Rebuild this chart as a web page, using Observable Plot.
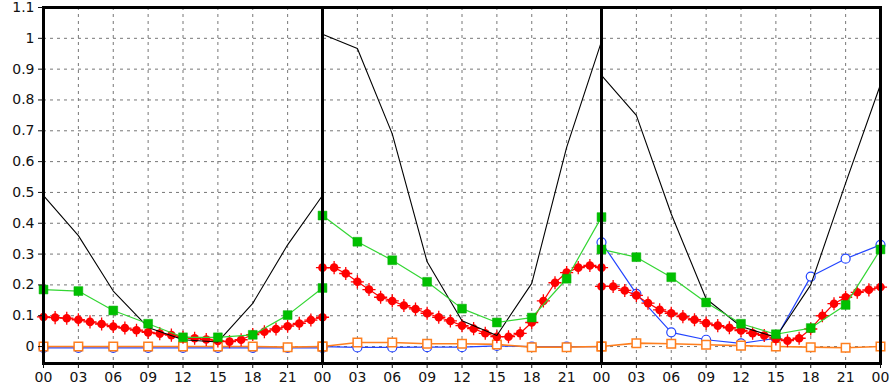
<!DOCTYPE html>
<html>
<head>
<meta charset="utf-8">
<script src="https://cdn.jsdelivr.net/npm/d3@7"></script>
<script src="https://cdn.jsdelivr.net/npm/@observablehq/plot@0.6"></script>
<style>
  html, body { margin: 0; padding: 0; background: #fff; }
  #chart svg { display: block; }
</style>
</head>
<body>
<div id="chart"></div>
<script>
// Three consecutive days, each panel 00..24 h
const panels = [0, 1, 2];
const hours3 = [0, 3, 6, 9, 12, 15, 18, 21, 24];
const hours1 = [0, 1, 2, 3, 4, 5, 6, 7, 8, 9, 10, 11, 12, 13, 14, 15, 16, 17, 18, 19, 20, 21, 22, 23, 24];

// black line (3-hourly)
const black = [
  [0.49, 0.36, 0.18, 0.062, 0.022, 0.015, 0.14, 0.33, 0.49],
  [1.013, 0.967, 0.69, 0.275, 0.084, 0.036, 0.205, 0.646, 0.99],
  [0.88, 0.75, 0.43, 0.155, 0.065, 0.03, 0.2, 0.53, 0.85]
];
// green squares (3-hourly)
const green = [
  [0.185, 0.18, 0.117, 0.074, 0.03, 0.03, 0.038, 0.102, 0.19],
  [0.425, 0.34, 0.28, 0.21, 0.123, 0.078, 0.094, 0.22, 0.42],
  [0.315, 0.29, 0.225, 0.143, 0.074, 0.04, 0.06, 0.135, 0.315]
];
// blue open circles (3-hourly)
const blue = [
  [-0.004, -0.004, -0.004, -0.004, -0.004, -0.004, -0.004, -0.004, -0.004],
  [0, -0.003, -0.003, -0.002, -0.002, 0.002, 0, 0, 0],
  [0.338, 0.171, 0.046, 0.022, 0.01, 0.027, 0.227, 0.285, 0.33]
];
// orange open squares (3-hourly)
const orange = [
  [0, 0, 0, 0, 0, 0, 0, -0.002, 0],
  [0, 0.013, 0.013, 0.009, 0.009, 0.007, -0.002, -0.002, 0],
  [0, 0.011, 0.009, 0.006, 0.003, 0, -0.002, -0.004, 0]
];
// red markers (hourly)
const red = [
  [0.096, 0.094, 0.092, 0.087, 0.08, 0.073, 0.065, 0.06, 0.053, 0.046, 0.042, 0.037, 0.03, 0.027, 0.023, 0.018, 0.016, 0.022, 0.039, 0.048, 0.057, 0.066, 0.075, 0.086, 0.095],
  [0.256, 0.256, 0.237, 0.21, 0.185, 0.16, 0.148, 0.133, 0.122, 0.108, 0.095, 0.083, 0.068, 0.058, 0.043, 0.032, 0.032, 0.043, 0.078, 0.148, 0.207, 0.24, 0.256, 0.263, 0.256],
  [0.195, 0.195, 0.182, 0.166, 0.141, 0.119, 0.108, 0.097, 0.087, 0.076, 0.068, 0.061, 0.052, 0.043, 0.036, 0.025, 0.019, 0.027, 0.057, 0.1, 0.139, 0.16, 0.176, 0.184, 0.193]
];

const yTicks = [0, 0.1, 0.2, 0.3, 0.4, 0.5, 0.6, 0.7, 0.8, 0.9, 1, 1.1];
const yTickLabels = ["0", "0.1", "0.2", "0.3", "0.4", "0.5", "0.6", "0.7", "0.8", "0.9", "1", "1.1"];
const xTicks = [0, 3, 6, 9, 12, 15, 18, 21, 24, 27, 30, 33, 36, 39, 42, 45, 48, 51, 54, 57, 60, 63, 66, 69, 72];
const xTickLabels = ["00","03","06","09","12","15","18","21","00","03","06","09","12","15","18","21","00","03","06","09","12","15","18","21","00"];
const panelEdges = [24, 48];

function rows(series, hours) {
  const out = [];
  panels.forEach(p => hours.forEach((h, i) => out.push({x: p * 24 + h, y: series[p][i], panel: p})));
  return out;
}
const blackRows = rows(black, hours3);
const greenRows = rows(green, hours3);
const blueRows = rows(blue, hours3);
const orangeRows = rows(orange, hours3);
const redRows = rows(red, hours1);

const xGrid = xTicks.filter(t => t % 24 !== 0);

const chart = Plot.plot({
  width: 891,
  height: 387,
  marginLeft: 43,
  marginRight: 11,
  marginTop: 7,
  marginBottom: 24,
  style: {fontFamily: "DejaVu Sans", fontSize: "14px", color: "#111", background: "#fff"},
  x: {domain: [0, 72], axis: null},
  y: {domain: [-0.055, 1.1], axis: null},
  marks: [
    Plot.ruleY(yTicks, {stroke: "#777", strokeWidth: 1, strokeDasharray: "3,4"}),
    Plot.ruleX(xGrid, {stroke: "#777", strokeWidth: 1, strokeDasharray: "3,4"}),
    Plot.line(blueRows, {x: "x", y: "y", z: "panel", stroke: "#2244ff", strokeWidth: 1.2}),
    Plot.dot(blueRows, {x: "x", y: "y", r: 4.5, stroke: "#2244ff", fill: "#fff", strokeWidth: 1.2}),
    Plot.line(orangeRows, {x: "x", y: "y", z: "panel", stroke: "#ff7f1e", strokeWidth: 1.6}),
    Plot.dot(orangeRows, {x: "x", y: "y", symbol: "square", r: 4.8, stroke: "#ff7f1e", fill: "#fff", strokeWidth: 1.5}),
    Plot.line(redRows, {x: "x", y: "y", z: "panel", stroke: "#ff0000", strokeWidth: 1.2}),
    Plot.dot(redRows, {x: "x", y: "y", r: 4.3, fill: "#ff0000"}),
    Plot.dot(redRows, {x: "x", y: "y", symbol: "plus", r: 4.3, stroke: "#ff0000", strokeWidth: 1.3}),
    Plot.line(blackRows, {x: "x", y: "y", z: "panel", stroke: "#000", strokeWidth: 1.1}),
    Plot.line(greenRows, {x: "x", y: "y", z: "panel", stroke: "#33d633", strokeWidth: 1.2}),
    Plot.dot(greenRows, {x: "x", y: "y", symbol: "square", r: 5, fill: "#00c000", stroke: "#00b000", strokeWidth: 0.5}),
    Plot.ruleX(panelEdges, {stroke: "#000", strokeWidth: 3}),
    Plot.frame({stroke: "#000", strokeWidth: 3}),
    Plot.axisY({ticks: yTicks, tickFormat: (d) => yTickLabels[yTicks.indexOf(d)], tickSize: 5, tickPadding: 4, label: null, fontSize: 14}),
    Plot.axisX({ticks: xTicks, tickFormat: d => xTickLabels[xTicks.indexOf(d)], tickSize: 5, tickPadding: 4, label: null, fontSize: 14})
  ]
});
document.getElementById("chart").appendChild(chart);
</script>
</body>
</html>
